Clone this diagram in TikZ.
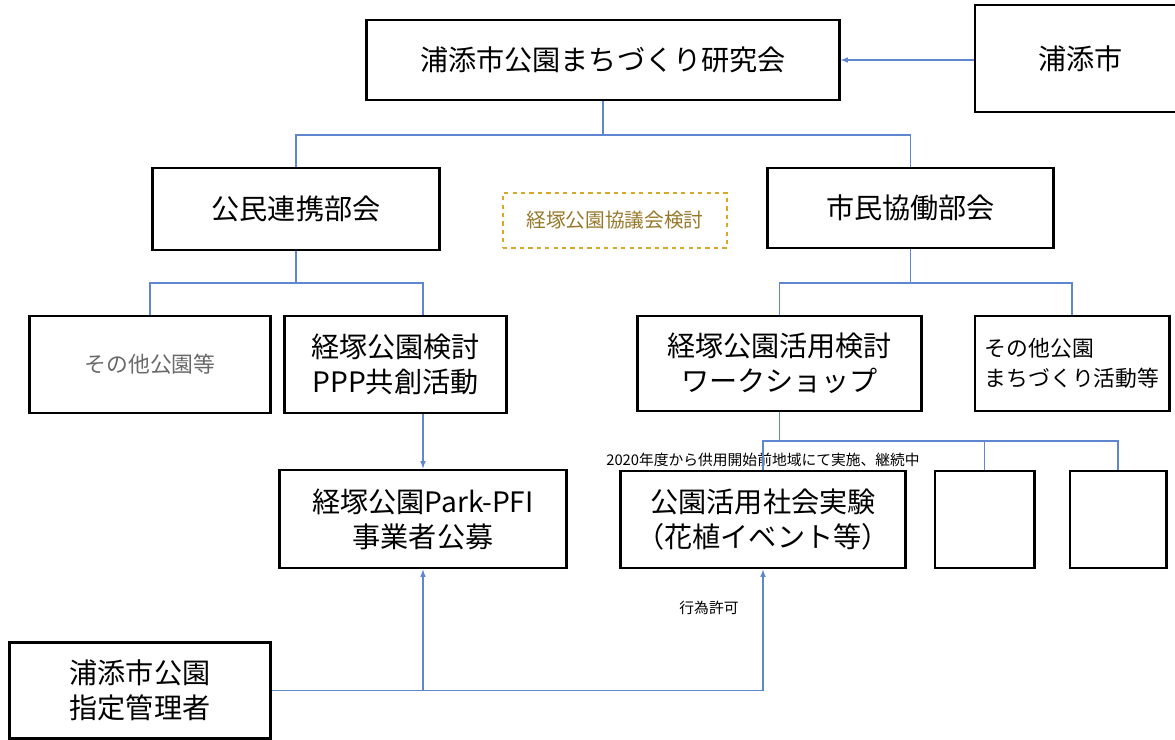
\documentclass[tikz,border=0pt]{standalone}
\usepackage{fontspec}
\setmainfont{Noto Sans CJK JP}
\usepackage{tikz}
\usetikzlibrary{shapes,arrows,positioning}
\definecolor{OfficeBlue}{RGB}{95,135,207}
\definecolor{Gold}{RGB}{214,170,40}
\definecolor{GoldText}{RGB}{150,120,40}
\definecolor{SoftGray}{RGB}{105,105,105}
\tikzset{org/.style={rectangle, draw, line width=2.1pt, fill=white, align=center, inner sep=0pt,
 font=\fontsize{20}{25}\selectfont}}
\tikzset{orgsmall/.style={org, font=\fontsize{15.5}{21}\selectfont}}
\tikzset{pending/.style={rectangle, draw=Gold, dashed, line width=1.2pt, text=GoldText, inner sep=0pt,
 font=\fontsize{14}{17}\selectfont}}
\tikzset{note/.style={inner sep=1pt, font=\fontsize{10.5}{12}\selectfont}}
\tikzset{link/.style={draw=OfficeBlue, line width=0.8pt}}
\tikzset{line/.style={draw=OfficeBlue, line width=0.8pt, -latex}}

\begin{document}
\begin{tikzpicture}[x=0.025cm,y=-0.025cm]
        \clip (0,0) rectangle (1175,740);
        \node[org, minimum width=11.8cm, minimum height=2cm]      (kenkyu) at (603,60)  {浦添市公園まちづくり研究会};
        \node[org, minimum width=5.5cm, minimum height=2.675cm]   (city)   at (1085,58.5) {浦添市\hspace*{6pt}};
        \node[org, minimum width=7.15cm, minimum height=2.05cm]   (koumin) at (296,209) {公民連携部会};
        \node[org, minimum width=7.125cm, minimum height=2cm]     (shimin) at (910.5,208) {市民協働部会};
        \node[pending, minimum width=5.6cm, minimum height=1.375cm] (kyougi) at (615,220.5) {経塚公園協議会検討};

        \node[orgsmall, text=SoftGray, minimum width=6cm, minimum height=2.425cm] (sonota) at (150,364.5) {その他公園等};
        \node[org, minimum width=5.525cm, minimum height=2.425cm] (ppp)    at (395.5,364.5) {経塚公園検討\\PPP共創活動};
        \node[org, minimum width=7.075cm, minimum height=2.375cm] (ws)     at (779.5,363.5) {経塚公園活用検討\\ワークショップ};
        \node[orgsmall, align=left, minimum width=4.85cm, minimum height=2.375cm] (machi) at (1072,363.5) {その他公園\\まちづくり活動等};

        \node[org, minimum width=7.15cm, minimum height=2.45cm]   (pfi)    at (423,519) {経塚公園Park-PFI\\事業者公募};
        \node[org, minimum width=7.1cm, minimum height=2.425cm]   (jikken) at (763,519.5) {公園活用社会実験\\（花植イベント等）};
        \node[org, minimum width=2.475cm, minimum height=2.425cm] (blank1) at (984.5,519.5) {};
        \node[org, minimum width=2.4cm, minimum height=2.425cm]   (blank2) at (1118,519.5) {};
        \node[note, above=1pt of jikken] (keizoku) {2020年度から供用開始前地域にて実施、継続中};

        \node[org, minimum width=6.5cm, minimum height=2.4cm]     (shitei) at (140,690.5) {浦添市公園\\指定管理者};

        % branch points
        \coordinate (b0) at (603,135);
        \coordinate (b1) at (296,283);
        \coordinate (b2) at (910.5,283);
        \coordinate (b3) at (779.5,441);
        \coordinate (b4) at (pfi.south |- shitei.east);

        \path[line] (city.west |- kenkyu.east) -- (kenkyu.east);
        \path[link] (kenkyu.south) -- (b0);
        \path[link] (koumin.north) |- (b0) -| (shimin.north);

        \path[link] (koumin.south) -- (b1);
        \path[link] (sonota.north) |- (b1) -| (pfi.north |- ppp.north);
        \path[line] (pfi.north |- ppp.south) -- (pfi.north);

        \path[link] (shimin.south) -- (b2);
        \path[link] (ws.north) |- (b2) -| (machi.north);

        \path[link] (ws.south) -- (b3);
        \path[link] (jikken.north) |- (b3) -| (blank2.north);
        \path[link] (blank1.north) -- (blank1.north |- b3);

        \path[link] (shitei.east) -- (b4);
        \path[line] (b4) -- (pfi.south);
        \path[line] (b4) -| node[note, pos=0.84, left=16pt] (kyoka) {行為許可} (jikken.south);
      \end{tikzpicture}
\end{document}
